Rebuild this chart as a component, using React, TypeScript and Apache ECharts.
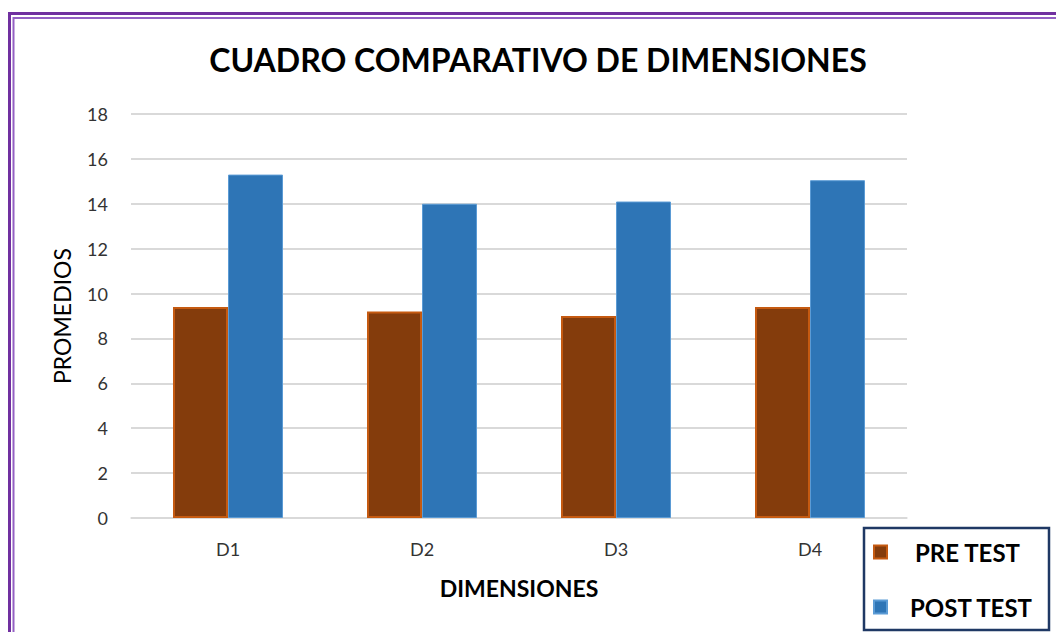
import React, { useEffect, useRef } from "react";
import * as echarts from "echarts";

const categories = ["D1", "D2", "D3", "D4"];
const seriesNames = ["PRE TEST", "POST TEST"];
const preTest = [9.4, 9.2, 9.0, 9.4];
const postTest = [15.3, 14.0, 14.1, 15.05];
const titleText = "CUADRO COMPARATIVO DE DIMENSIONES";
const xAxisName = "DIMENSIONES";
const yAxisName = "PROMEDIOS";

const FONT = "Lato, 'Open Sans', sans-serif";

export default function App() {
  const ref = useRef<HTMLDivElement>(null);
  useEffect(() => {
    if (!ref.current) return;
    const chart = echarts.init(ref.current, undefined, { renderer: "svg" });
    chart.setOption({
      animation: false,
      backgroundColor: "#ffffff",
      textStyle: { fontFamily: FONT },
      title: {
        text: titleText,
        left: 533,
        top: 38,
        textAlign: "center",
        textStyle: { fontSize: 32, fontWeight: "bold", color: "#000", fontFamily: FONT },
      },
      grid: { left: 131, right: 149, top: 114, bottom: 114 },
      legend: {
        orient: "vertical",
        left: 873,
        top: 540,
        padding: 0,
        itemWidth: 13,
        itemHeight: 13,
        itemGap: 31,
        icon: "rect",
        data: [
          { name: seriesNames[0], textStyle: { padding: [0, 0, 0, 23] } },
          { name: seriesNames[1], textStyle: { padding: [0, 0, 0, 18] } },
        ],
        textStyle: { fontSize: 24, fontWeight: "bold", color: "#000", fontFamily: FONT },
      },
      xAxis: {
        type: "category",
        data: categories,
        name: xAxisName,
        nameLocation: "middle",
        nameGap: 58,
        nameTextStyle: { fontSize: 23, fontWeight: "bold", color: "#000", fontFamily: FONT },
        axisLine: { lineStyle: { color: "#D9D9D9", width: 1.5 } },
        axisTick: { show: false },
        axisLabel: { fontSize: 18, color: "#333333", margin: 22, fontFamily: FONT },
      },
      yAxis: {
        type: "value",
        min: 0,
        max: 18,
        interval: 2,
        name: yAxisName,
        nameLocation: "middle",
        nameGap: 58,
        nameTextStyle: { fontSize: 23, fontWeight: "normal", color: "#000", fontFamily: FONT },
        axisLine: { show: false },
        axisTick: { show: false },
        axisLabel: { fontSize: 18, color: "#333333", margin: 23, fontFamily: FONT },
        splitLine: { lineStyle: { color: "#D9D9D9", width: 2 } },
      },
      series: [
        {
          name: seriesNames[0],
          type: "bar",
          data: preTest,
          barWidth: 55,
          barGap: "0%",
          itemStyle: { color: "#843C0C", borderColor: "#C55A11", borderWidth: 2 },
        },
        {
          name: seriesNames[1],
          type: "bar",
          data: postTest,
          barWidth: 55,
          barGap: "0%",
          itemStyle: { color: "#2E75B6", borderColor: "#5B9BD5", borderWidth: 1 },
        },
      ],
      graphic: [
        {
          type: "rect",
          shape: { x: 9.5, y: 13.5, width: 1100, height: 700 },
          style: { fill: "none", stroke: "#7030A0", lineWidth: 3 },
          silent: true,
        },
        {
          type: "rect",
          shape: { x: 13.5, y: 18, width: 1100, height: 700 },
          style: { fill: "none", stroke: "#9460C4", lineWidth: 2 },
          silent: true,
        },
        {
          type: "rect",
          shape: { x: 864, y: 528, width: 185, height: 102 },
          style: { fill: "none", stroke: "#1F3864", lineWidth: 2.5 },
          silent: true,
        },
      ],
    });
    return () => chart.dispose();
  }, []);
  return (
    <div
      ref={ref}
      style={{ position: "fixed", left: 0, top: 0, width: 1056, height: 632 }}
    />
  );
}
